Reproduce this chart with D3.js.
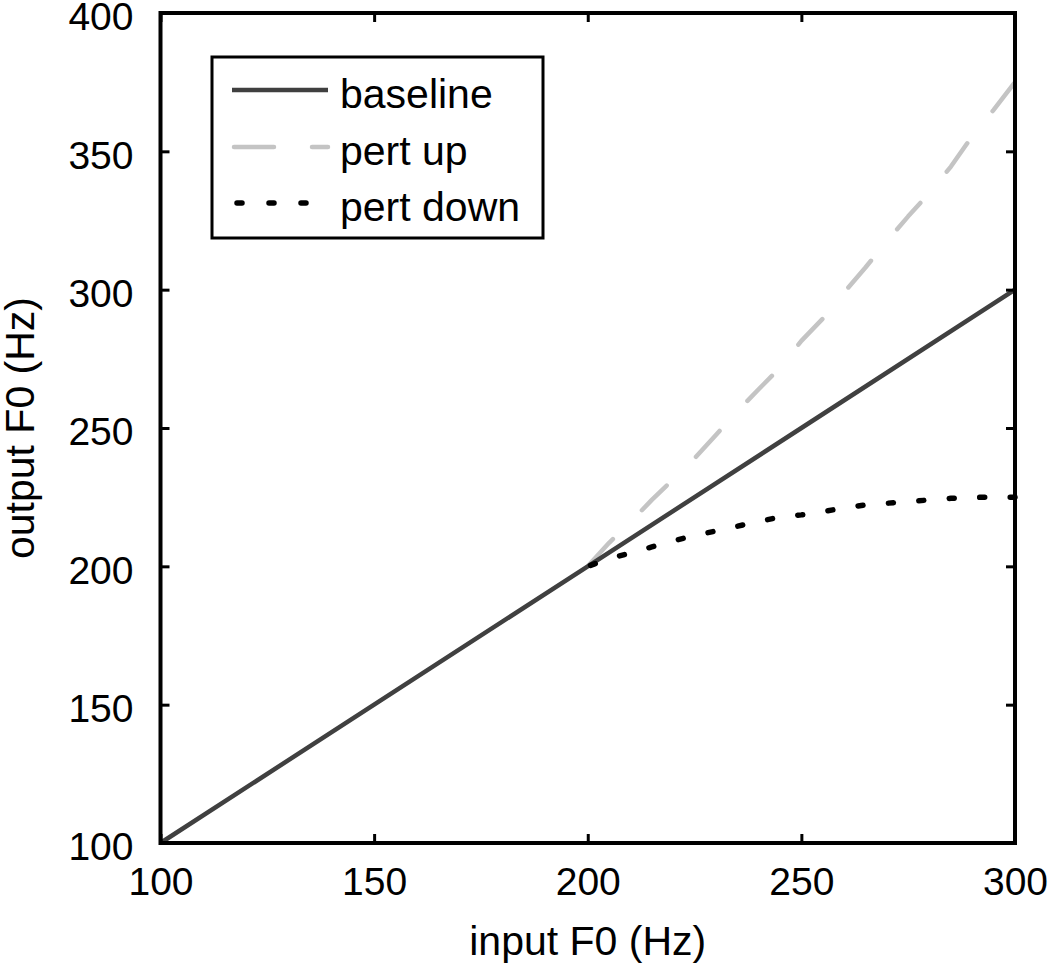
<!DOCTYPE html>
<html>
<head>
<meta charset="utf-8">
<script src="https://cdn.jsdelivr.net/npm/d3@7"></script>
<style>
  html, body { margin: 0; padding: 0; background: #fff; }
  svg { display: block; }
  text { font-family: "Liberation Sans", Arial, Helvetica, sans-serif; fill: #000; }
</style>
</head>
<body>
<svg id="chart" width="1050" height="965"></svg>
<script>
// ---- data ----
const baselineX = [100, 150, 200, 250, 300];
const baselineY = [100, 150, 200, 250, 300];

const pertUpX = [200, 205, 210, 215, 220, 225, 230, 235, 240, 245, 250, 255, 260, 265, 270, 275, 280, 285, 290, 295, 300];
const pertUpY = [200, 208.5, 216, 224, 231.5, 239, 247.5, 256, 264, 271.8, 281.5, 289.5, 299, 308, 317.5, 326.5, 335, 344.5, 355.5, 365, 375];

const pertDownX = [200, 205, 210, 215, 220, 225, 230, 235, 240, 245, 250, 255, 260, 265, 270, 275, 280, 285, 290, 295, 300];
const pertDownY = [200, 202.8, 204.8, 207, 209.2, 211.1, 212.8, 214.5, 216.2, 217.8, 218.6, 219.8, 221.1, 222.2, 222.8, 223.4, 224, 224.6, 224.9, 225, 225];

const xTicks = [100, 150, 200, 250, 300];
const yTicks = [100, 150, 200, 250, 300, 350, 400];
const xLabel = "input F0 (Hz)";
const yLabel = "output F0 (Hz)";
const seriesNames = ["baseline", "pert up", "pert down"];

// ---- layout ----
const svg = d3.select("#chart");
const L = 160.5, R = 1015, T = 13, B = 843;
const x = d3.scaleLinear().domain([100, 300]).range([L, R]);
const y = d3.scaleLinear().domain([100, 400]).range([B, T]);

const styles = [
  { color: "#404040", width: 4.5, dash: null, cap: "butt" },
  { color: "#c4c4c4", width: 4.5, dash: "35,41", cap: "round" },
  { color: "#000000", width: 5.5, dash: "5,25.5", cap: "round" }
];

const lineGen = d3.line().x(d => x(d[0])).y(d => y(d[1]));
const series = [
  d3.zip(baselineX, baselineY),
  d3.zip(pertUpX, pertUpY),
  d3.zip(pertDownX, pertDownY)
];

const gPlot = svg.append("g");
[1, 0, 2].forEach(i => {
  const s = styles[i];
  gPlot.append("path")
    .datum(series[i])
    .attr("d", lineGen)
    .attr("fill", "none")
    .attr("stroke", s.color)
    .attr("stroke-width", s.width)
    .attr("stroke-linecap", s.cap)
    .attr("stroke-linejoin", "round")
    .attr("stroke-dasharray", s.dash)
    .attr("stroke-dashoffset", i === 2 ? -3 : (i === 1 ? -2 : 0));
});

// ---- axes ----
const tickFont = 39;
const tickLen = 9;

const xAxisB = d3.axisBottom(x).tickValues(xTicks).tickSize(-tickLen).tickPadding(24).tickFormat(d3.format("d"));
const xAxisT = d3.axisTop(x).tickValues(xTicks).tickSize(-tickLen).tickFormat("");
const yAxisL = d3.axisLeft(y).tickValues(yTicks).tickSize(-tickLen).tickPadding(27).tickFormat(d3.format("d"));
const yAxisR = d3.axisRight(y).tickValues(yTicks).tickSize(-tickLen).tickFormat("");

function styleAxis(g) {
  g.select(".domain").remove();
  g.selectAll(".tick line").attr("stroke", "#000").attr("stroke-width", 3);
  g.selectAll(".tick text").attr("font-size", tickFont).attr("fill", "#000")
    .style("font-family", "'Liberation Sans', Arial, sans-serif");
}

svg.append("g").attr("transform", `translate(0,${B})`).call(xAxisB).call(styleAxis)
  .selectAll(".tick text").attr("dy", "0.71em");
svg.append("g").attr("transform", `translate(0,${T})`).call(xAxisT).call(styleAxis);
svg.append("g").attr("transform", `translate(${L},0)`).call(yAxisL).call(styleAxis)
  .selectAll(".tick text").attr("dy", "0.43em");
svg.append("g").attr("transform", `translate(${R},0)`).call(yAxisR).call(styleAxis);

// frame
svg.append("rect")
  .attr("x", L).attr("y", T).attr("width", R - L).attr("height", B - T)
  .attr("fill", "none").attr("stroke", "#000").attr("stroke-width", 4);

// axis labels
svg.append("text")
  .attr("x", (L + R) / 2).attr("y", 955)
  .attr("text-anchor", "middle").attr("font-size", 41)
  .text(xLabel);
svg.append("text")
  .attr("transform", `translate(34,${(T + B) / 2}) rotate(-90)`)
  .attr("text-anchor", "middle").attr("font-size", 41)
  .text(yLabel);

// ---- legend ----
const lg = svg.append("g");
lg.append("rect")
  .attr("x", 212).attr("y", 57).attr("width", 331).attr("height", 181)
  .attr("fill", "#fff").attr("stroke", "#000").attr("stroke-width", 3);
const rowY = [90, 147, 203];
seriesNames.forEach((name, i) => {
  const s = styles[i];
  lg.append("line")
    .attr("x1", 232).attr("x2", 328).attr("y1", rowY[i]).attr("y2", rowY[i])
    .attr("stroke", s.color).attr("stroke-width", s.width)
    .attr("stroke-linecap", s.cap)
    .attr("stroke-dasharray", i === 1 ? "40,38" : (i === 2 ? "5,27" : null))
    .attr("stroke-dashoffset", i === 1 ? -2 : (i === 2 ? -5 : 0));
  lg.append("text")
    .attr("x", 340).attr("y", rowY[i] + 18)
    .attr("font-size", 41)
    .text(name);
});
</script>
</body>
</html>
